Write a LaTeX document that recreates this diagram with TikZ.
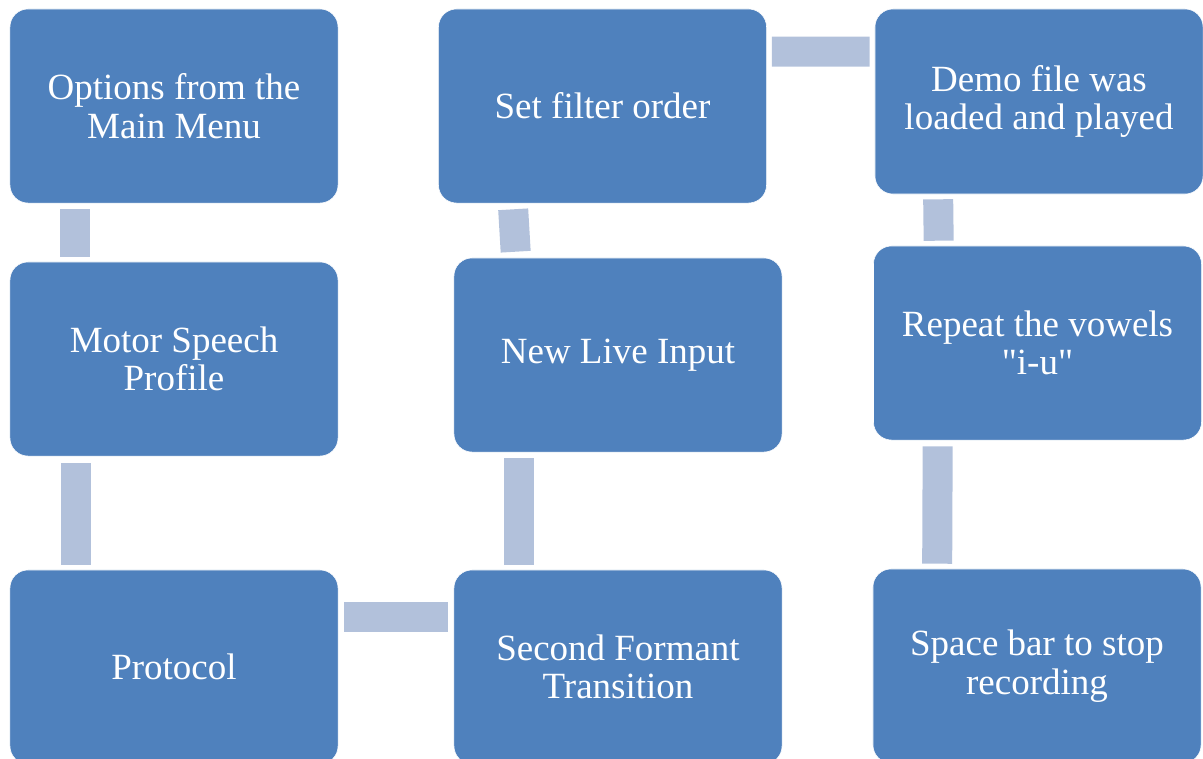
\documentclass[tikz,border=0pt]{standalone}
\usepackage{fontspec}
\setmainfont{Liberation Serif}[Ligatures=TeXOff]
\usepackage{xcolor}
\usepackage{tikz}
\usetikzlibrary{positioning}
\definecolor{boxblue}{HTML}{4F81BD}
\definecolor{linkblue}{HTML}{B2C1DB}
\tikzstyle{stepbox} = [rectangle, rounded corners=0.45cm, minimum width=8.2cm, minimum height=4.85cm, align=center, draw=white, line width=0.4pt, fill=boxblue, text=white, font=\fontsize{26.3}{27.5}\selectfont]
\tikzstyle{link} = [linkblue, line width=0.75cm, line cap=butt]

\begin{document}
\begin{tikzpicture}[x=0.025cm, y=-0.025cm]

\useasboundingbox (0,0) rectangle (1203,758);

\node (opts) [stepbox] at (174,106) {Options from the\\Main Menu};
\node (motor) [stepbox] at (174,359) {Motor Speech\\Profile};
\node (proto) [stepbox] at (174,667) {Protocol};
\node (formant) [stepbox] at (618,667) {Second Formant\\Transition};
\node (live) [stepbox] at (618,355) {New Live Input};
\node (filter) [stepbox] at (602.5,106) {Set filter order};
\node (demo) [stepbox, minimum height=4.625cm] at (1039,101.5) {Demo file was\\loaded and played};
\node (vowels) [stepbox] at (1037.5,343) {Repeat the vowels\\"i-u"};
\node (space) [stepbox] at (1037,666) {Space bar to stop\\recording};

\draw [link] ([shift={(65.5,6)}]opts.south west) -- ([shift={(65.5,-5)}]motor.north west);
\draw [link] ([shift={(66,7)}]motor.south west) -- ([shift={(66,-5)}]proto.north west);
\draw [link] ([shift={(6,47.5)}]proto.north east) -- ([shift={(-6,47.5)}]formant.north west);
\draw [link] ([shift={(65.5,-5)}]formant.north west) -- ([shift={(65.5,6)}]live.south west);
\draw [link] ([shift={(62,-6)}]live.north west) -- ([shift={(75,6)}]filter.south west);
\draw [link] ([shift={(5,43)}]filter.north east) -- ([shift={(-5,43)}]demo.north west);
\draw [link] ([shift={(63.5,5)}]demo.south west) -- ([shift={(65.5,-5)}]vowels.north west);
\draw [link] ([shift={(64.5,6)}]vowels.south west) -- ([shift={(64.5,-5)}]space.north west);

\end{tikzpicture}
\end{document}
